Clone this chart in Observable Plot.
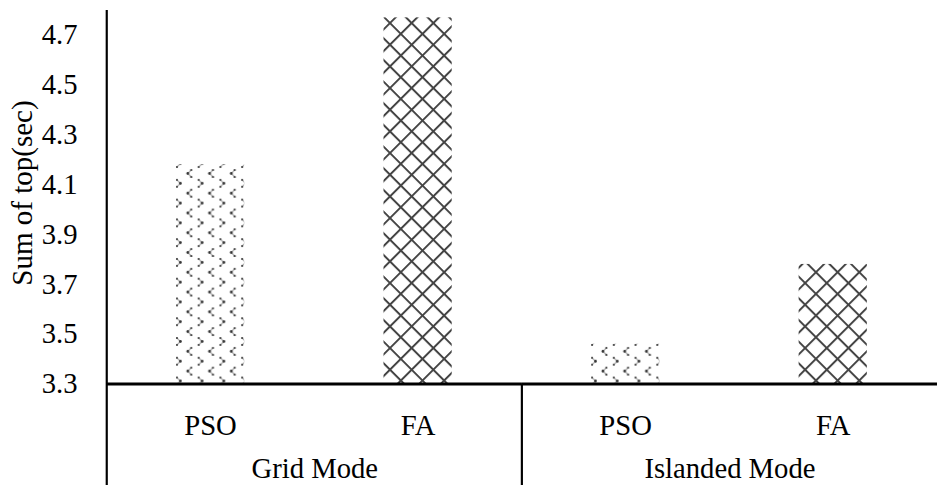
<!DOCTYPE html>
<html><head><meta charset="utf-8">
<script src="https://cdn.jsdelivr.net/npm/d3@7"></script>
<script src="https://cdn.jsdelivr.net/npm/@observablehq/plot@0.6"></script>
<style>
body{margin:0;background:#fff;}
#chart{position:relative;width:937px;height:491px;overflow:hidden;}
#ytitle{position:absolute;font-family:"Liberation Serif";font-size:29px;color:#000;white-space:nowrap;
  transform:translate(-50%,-50%) rotate(-90deg);line-height:1;}
</style></head><body><div id="chart"><div id="ytitle"></div></div>
<script>
const modes = ["Grid Mode", "Islanded Mode"];
const methods = ["PSO", "FA"];
const barMode = ["Grid Mode", "Grid Mode", "Islanded Mode", "Islanded Mode"];
const barMethod = ["PSO", "FA", "PSO", "FA"];
const barValue = [4.18, 4.77, 3.46, 3.78];
const yTicks = [3.3, 3.5, 3.7, 3.9, 4.1, 4.3, 4.5, 4.7];
const yDomain = [3.3, 4.8];
const yLabel = "Sum of top(sec)";

const data = barValue.map((v, i) => ({mode: barMode[i], method: barMethod[i], value: v}));
const patternFor = {PSO: "url(#pat-pso)", FA: "url(#pat-fa)"};
const W = 948, H = 491;
const font = "Liberation Serif";

const chart = Plot.plot({
  width: W, height: H,
  marginLeft: 108, marginRight: 0, marginTop: 10, marginBottom: 103,
  style: {fontFamily: font, fontSize: "29px", background: "#fff", color: "#000"},
  fx: {domain: modes, padding: 0, label: null},
  x: {domain: methods, paddingInner: 0.671, paddingOuter: 0.3355, label: null},
  y: {domain: yDomain, label: null},
  color: {type: "identity"},
  marks: [
    Plot.barY(data, {fx: "mode", x: "method", y1: yDomain[0], y2: "value", fill: d => patternFor[d.method]}),
    Plot.ruleY([yDomain[0]], {stroke: "#000", strokeWidth: 3}),
    Plot.axisY({ticks: yTicks, tickSize: 0, tickPadding: 30, tickFormat: d3.format(".1f"), label: null, fontSize: 29}),
    Plot.axisX({anchor: "bottom", tickSize: 0, tickPadding: 31, label: null, fontSize: 29}),
    Plot.axisFx({anchor: "bottom", tickSize: 0, tickPadding: 75, label: null, fontSize: 29})
  ]
});

document.getElementById("chart").appendChild(chart);

const svg = d3.select(chart);
const defs = svg.insert("defs", ":first-child");
const pso = defs.append("pattern").attr("id", "pat-pso").attr("patternUnits", "userSpaceOnUse")
  .attr("width", 22).attr("height", 20);
pso.append("rect").attr("width", 22).attr("height", 20).attr("fill", "#fff");
function chevron(g, x0, y0, dir) {
  const pts = dir > 0 ? [[0,0],[3.5,3.5],[0,7]] : [[3.5,0],[0,3.5],[3.5,7]];
  g.append("path").attr("d", "M" + pts.map(p => [x0 + p[0], y0 + p[1]].join(",")).join("L"))
    .attr("fill", "none").attr("stroke", "#aaa").attr("stroke-width", 1.1);
  pts.forEach((p, i) => g.append("circle").attr("cx", x0 + p[0]).attr("cy", y0 + p[1])
    .attr("r", i === 1 ? 1.4 : 1.1).attr("fill", "#333"));
}
chevron(pso, 3, 2, 1);
chevron(pso, 14, 12, -1);
chevron(pso, 14, -8, -1);
const t = 15.5;
const fa = defs.append("pattern").attr("id", "pat-fa").attr("patternUnits", "userSpaceOnUse")
  .attr("width", t).attr("height", t).attr("patternTransform", "rotate(45)");
fa.append("rect").attr("width", t).attr("height", t).attr("fill", "#fff");
fa.append("rect").attr("width", t).attr("height", 2).attr("fill", "#444");
fa.append("rect").attr("width", 2).attr("height", t).attr("fill", "#444");

const fx = chart.scale("fx"), y = chart.scale("y");
const yPix = v => y.range[0] + (v - y.domain[0]) / (y.domain[1] - y.domain[0]) * (y.range[1] - y.range[0]);
const step = fx.step || (fx.range[1] - fx.range[0]) / fx.domain.length;
const edges = fx.domain.map((d, i) => fx.range[0] + i * step);
const base = yPix(yDomain[0]);
const topY = Math.min(y.range[0], y.range[1]);
const lines = svg.append("g").attr("stroke", "#000").attr("stroke-width", 2.2);
lines.append("line").attr("x1", edges[0]).attr("x2", edges[0]).attr("y1", topY).attr("y2", H);
edges.slice(1).forEach(e => lines.append("line").attr("x1", e).attr("x2", e).attr("y1", base).attr("y2", H));

// y-axis title, centred on the y range, placed in the left margin
const yt = document.getElementById("ytitle");
yt.textContent = yLabel;
yt.style.left = (edges[0] - 86) + "px";
yt.style.top = ((y.range[0] + y.range[1]) / 2 - 6) + "px";

// make sure the serif face is resolved on every svg text before the picture is taken
chart.querySelectorAll("text").forEach(el => { el.style.fontFamily = getComputedStyle(el).fontFamily; });
document.body.offsetHeight;
</script></body></html>
